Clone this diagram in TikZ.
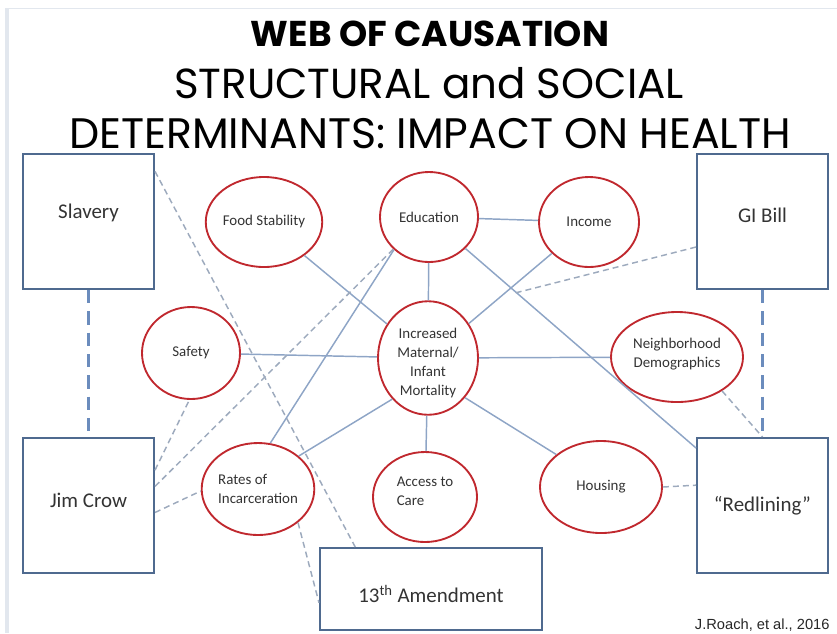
\documentclass[tikz,border=0pt]{standalone}
\usepackage{fontspec}
\setmainfont{Carlito}
\newfontfamily\titlefont{Poppins}
\newfontfamily\creditfont{Liberation Sans}
\usetikzlibrary{shapes.geometric}

\definecolor{boxblue}{HTML}{4F6A8F}
\definecolor{circred}{HTML}{C0282E}
\definecolor{linkblue}{HTML}{8EA5C6}
\definecolor{dashgrey}{HTML}{9DAABD}
\definecolor{pillarblue}{HTML}{6B8CBD}
\definecolor{stripgrey}{HTML}{E2E7EE}

\tikzset{every picture/.style={line width=0.75pt}}
\tikzset{
	detbox/.style={draw=boxblue, line width=1.5pt, minimum width=98.25pt, minimum height=101.25pt, inner sep=0pt, font=\fontsize{15.7}{18}\selectfont, text=black!80},
	factor/.style={ellipse, draw=circred, line width=1.4pt, inner sep=0pt, font=\fontsize{11.2}{14.3}\selectfont, align=center, text=black!80},
	link/.style={draw=linkblue, line width=1.1pt},
	dlink/.style={draw=dashgrey, line width=1.1pt, dash pattern={on 4.5pt off 3pt}},
	pillar/.style={draw=pillarblue, line width=2.2pt, dash pattern={on 10pt off 6pt}},
}

\begin{document}
\begin{tikzpicture}[x=0.75pt,y=0.75pt,yscale=-1,xscale=1]
	\useasboundingbox (0,0) rectangle (837,633);
	
	%Slide edge
	\fill [stripgrey] (5,8) rectangle (9,633);
	\draw [stripgrey] (5,8) -- (837,8);
	
	% Title
	\node [font={\titlefont\bfseries\fontsize{26.9}{30}\selectfont}] (title) at (430,34) {WEB OF CAUSATION};
	\node [font={\titlefont\fontsize{31.5}{34}\selectfont}] (sub1) at (429,83) {STRUCTURAL and SOCIAL};
	\node [font={\titlefont\fontsize{32}{34}\selectfont}] (sub2) at (430,134) {DETERMINANTS: IMPACT ON HEALTH};
	
	%Shape: Rectangle
	\node [detbox, text height=10pt, text depth=14.1pt] (slavery) at (88.5,221.5) {Slavery};
	\node [detbox, text height=10pt, text depth=7.4pt] (jimcrow) at (88.5,505.5) {Jim Crow};
	\node [detbox, text height=10pt, text depth=8.1pt] (gibill) at (762.5,221.5) {GI Bill};
	\node [detbox] (redline) at (762.5,505.5) {``Redlining''};
	\node [detbox, minimum width=166.5pt, minimum height=61.5pt, text height=22.9pt, text depth=3pt] (amend) at (431,589) {13\textsuperscript{th} Amendment};
	
	%Shape: Ellipse
	\node [factor, minimum width=75pt, minimum height=67.5pt] (food) at (264,222) {Food Stability};
	\node [factor, minimum width=73.5pt, minimum height=67.5pt] (edu) at (429,217) {Education};
	\node [factor, minimum width=75pt, minimum height=67.5pt] (inc) at (589,222) {Income};
	\node [factor, minimum width=73.5pt, minimum height=69pt] (safe) at (191,353) {Safety};
	\node [factor, minimum width=75pt, minimum height=78pt] (mort) at (428,358) {\rule{0pt}{15.5pt}Increased\\Maternal/\\Infant\\Mortality};
	\node [factor, minimum width=99pt, minimum height=67.5pt] (nbhd) at (677,357) {Neighborhood\\Demographics\rule[-6.9pt]{0pt}{6.9pt}};
	\node [factor, minimum width=84pt, minimum height=69pt, align=left] (rates) at (258,489) {Rates of\\Incarceration};
	\node [factor, minimum width=78pt, minimum height=67.5pt, align=left] (access) at (425,497) {Access to\\Care\rule[-9pt]{0pt}{9pt}};
	\node [factor, minimum width=91.5pt, minimum height=69pt] (house) at (601,487) {Housing};
	
	\coordinate (gimeet) at (515,293);
	
	%Straight Lines
	\draw [link] (food) -- (mort);
	\draw [link] (edu) -- (inc);
	\draw [link] (edu) -- (mort);
	\draw [link] (edu) -- (redline);
	\draw [link] (inc) -- (mort);
	\draw [link] (safe) -- (mort);
	\draw [link] (mort) -- (nbhd);
	\draw [link] (mort.229) -- (rates.39);
	\draw [link] (rates.75) -- (edu.223);
	\draw [link] (mort) -- (access);
	\draw [link] (mort.313) -- (house.144);
	
	%Dashed Lines
	\draw [dlink] (slavery.37) -- (amend.151);
	\draw [dlink] (jimcrow.16) -- (edu.222);
	\draw [dlink] (jimcrow.28) -- (safe.268);
	\draw [dlink] (jimcrow.354) -- (rates.182);
	\draw [dlink] (rates.320) -- (amend.187);
	\draw [dlink] (gibill.201) -- (gimeet);
	\draw [dlink] (nbhd.323) -- (redline.north);
	\draw [dlink] (house.east) -- (redline.163);
	\draw [pillar] (slavery.south) -- (jimcrow.north);
	\draw [pillar] (gibill.south) -- (redline.north);
	
	% Text Node
	\node [anchor=base west, font={\creditfont\fontsize{11}{13}\selectfont}, text=black!85] (credit) at (690,629) {J.Roach, et al., 2016};
\end{tikzpicture}
\end{document}
